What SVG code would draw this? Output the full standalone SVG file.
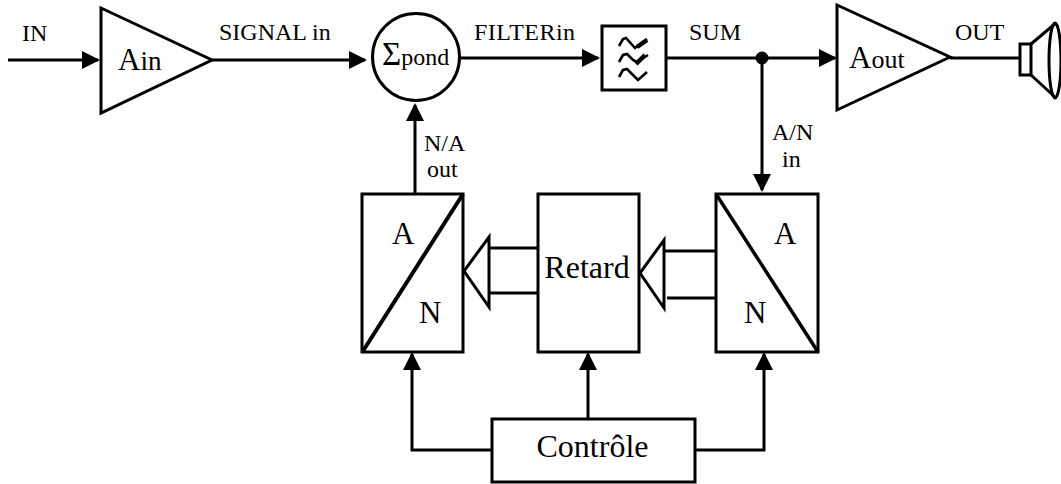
<svg xmlns="http://www.w3.org/2000/svg" width="1061" height="484" viewBox="0 0 1061 484">
<style>
text{font-family:"Liberation Serif","Times New Roman",serif;fill:#000}
.s{fill:none;stroke:#000;stroke-width:3}
.b{fill:#fff;stroke:#000;stroke-width:3}
.l{font-size:24px}
.m{font-size:31px}
.f{fill:none;stroke:#000;stroke-width:2.6}
.t{fill:none;stroke:#000;stroke-width:4.5}
</style>
<defs>
<marker id="a" markerUnits="userSpaceOnUse" markerWidth="20" markerHeight="20" refX="16" refY="9" orient="auto"><path d="M0 0L18 9L0 18Z" fill="#000"/></marker>
</defs>
<g id="connectors">
<path class="s" d="M8 60H98" marker-end="url(#a)"/>
<path class="s" d="M212 60H365" marker-end="url(#a)"/>
<path class="s" d="M461 58H598" marker-end="url(#a)"/>
<path class="s" d="M667 58H835" marker-end="url(#a)"/>
<path class="s" d="M950 58H1020"/>
<path class="s" d="M762 58V190" marker-end="url(#a)"/>
<path class="s" d="M415 194V105" marker-end="url(#a)"/>
<path class="s" d="M489 248H538M489 293H538"/>
<path class="s" d="M664 251H716M667 298H716"/>
<path class="s" d="M492 450H412V354" marker-end="url(#a)"/>
<path class="s" d="M588 419V354" marker-end="url(#a)"/>
<path class="s" d="M695 450H764V354" marker-end="url(#a)"/>
<circle cx="762" cy="58" r="6.5" fill="#000"/>
</g>
<g id="amp-in"><path class="b" d="M101 8V113L212 60Z"/><text class="m" x="118" y="70">A<tspan font-size="27">in</tspan></text></g>
<g id="sum"><circle class="b" cx="416" cy="57" r="43.5"/><text x="382" y="65" font-size="33">Σ<tspan font-size="24">pond</tspan></text></g>
<g id="filter"><rect class="b" x="602" y="26" width="64" height="64"/>
<path class="f" d="M619 46L623 39L626 38L635 48L647 39"/>
<path class="t" d="M637 47L647 40"/>
<path class="f" d="M619 62L623 55L627 54L633 60L637 62L648 55"/>
<path class="t" d="M636 64L645 55"/>
<path class="f" d="M619 77L623 70L627 69L635 77L638 80L647 72"/>
</g>
<g id="amp-out"><path class="b" d="M837 5V110L950 57Z"/><text class="m" x="849" y="68">A<tspan font-size="26">out</tspan></text></g>
<g id="speaker"><rect class="b" x="1020" y="44" width="11" height="31"/><path class="s" d="M1031 44L1056 23M1031 75L1056 98"/><ellipse class="s" cx="1055" cy="60.5" rx="6" ry="37.5"/></g>
<g id="dac"><rect class="b" x="362" y="194" width="101" height="158"/><path class="s" style="stroke-width:4" d="M363 351L463 194"/><text class="m" x="392" y="244">A</text><text class="m" x="419" y="323">N</text></g>
<g id="retard"><rect class="b" x="538" y="194" width="101" height="158"/><text x="587" y="278" font-size="32" text-anchor="middle">Retard</text></g>
<g id="adc"><rect class="b" x="716" y="194" width="102" height="158"/><path class="s" style="stroke-width:3.5" d="M716 194L818 352"/><text class="m" x="774" y="244">A</text><text class="m" x="744" y="323">N</text></g>
<g id="bus-left"><path class="b" d="M489 237V307L464 271Z"/></g>
<g id="bus-right"><path class="b" d="M664 240V308L640 273Z"/></g>
<g id="control"><rect class="b" x="492" y="419" width="203" height="63"/><text x="592.500" y="457" font-size="32" text-anchor="middle">Contrôle</text></g>
<g id="labels">
<text class="l" x="22" y="41">IN</text>
<text class="l" x="219" y="40">SIGNAL in</text>
<text class="l" x="474" y="40" textLength="101">FILTERin</text>
<text class="l" x="689" y="40">SUM</text>
<text class="l" x="955" y="40">OUT</text>
<text class="l" x="424" y="151">N/A</text>
<text class="l" x="427" y="177">out</text>
<text class="l" x="772" y="140">A/N</text>
<text class="l" x="782" y="167">in</text>
</g>
</svg>
